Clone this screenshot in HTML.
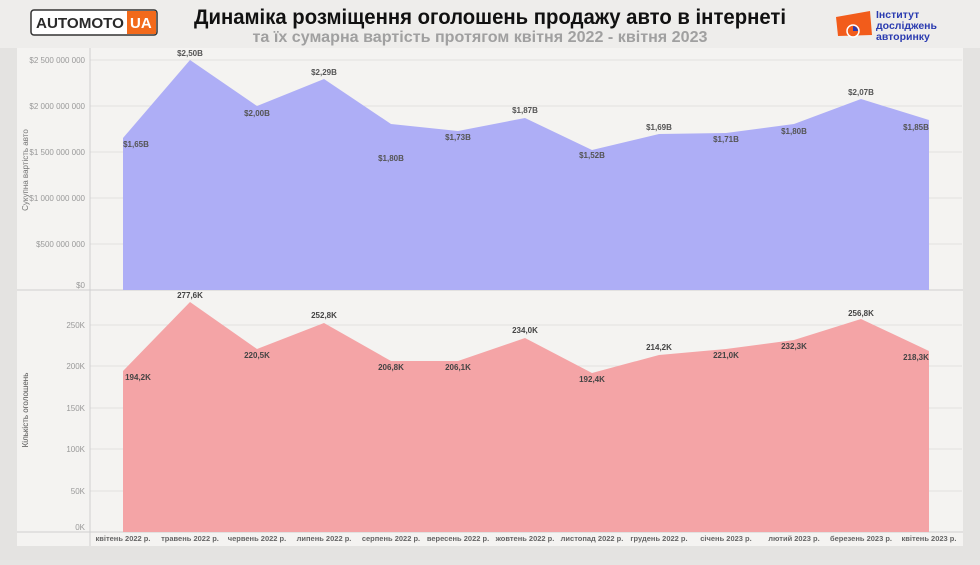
<!DOCTYPE html>
<html><head><meta charset="utf-8"><style>
body{margin:0;width:980px;height:560px;overflow:hidden;background:#e6e5e3;font-family:"Liberation Sans",sans-serif;}
</style></head><body>
<svg width="980" height="560" xmlns="http://www.w3.org/2000/svg" font-family="Liberation Sans, sans-serif">
<rect width="980" height="560" fill="#e4e3e1"/>
<rect x="0" y="0" width="980" height="48" fill="#eeedeb"/>
<rect x="17" y="48" width="946" height="498" fill="#f4f3f1"/>
<!-- logo -->
<rect x="31" y="10" width="126" height="25" rx="3" fill="#fff" stroke="#333" stroke-width="1.5"/>
<text x="36" y="28" font-size="14.5" font-weight="bold" fill="#2a2a2a" textLength="88" lengthAdjust="spacingAndGlyphs">AUTOMOTO</text>
<rect x="127" y="11" width="29" height="23" fill="#f26a1b"/>
<text x="130" y="28" font-size="15" font-weight="bold" fill="#fff">UA</text>
<text x="490" y="24" font-size="21" font-weight="bold" fill="#111" text-anchor="middle" textLength="592" lengthAdjust="spacingAndGlyphs">Динаміка розміщення оголошень продажу авто в інтернеті</text>
<text x="480" y="42" font-size="16" font-weight="bold" fill="#a0a0a0" text-anchor="middle" textLength="455" lengthAdjust="spacingAndGlyphs">та їх сумарна вартість протягом квітня 2022 - квітня 2023</text>
<!-- right logo -->
<path d="M836 17 L870 11 L872 35 L838 36 Z" fill="#f25c1b"/>
<circle cx="853" cy="31" r="6" fill="#f25c1b" stroke="#fff" stroke-width="1.5"/>
<path d="M853 31 L853 26 A5 5 0 0 1 858 31 Z" fill="#2a3bb0"/>
<text x="876" y="18" font-size="10.5" font-weight="bold" fill="#2a3bb0">Інститут</text>
<text x="876" y="29" font-size="10.5" font-weight="bold" fill="#2a3bb0">досліджень</text>
<text x="876" y="40" font-size="10.5" font-weight="bold" fill="#2a3bb0">авторинку</text>
<!-- grid -->
<g stroke="#e2e1df" stroke-width="1">
<line x1="90" y1="60" x2="962" y2="60"/><line x1="90" y1="106" x2="962" y2="106"/><line x1="90" y1="152" x2="962" y2="152"/><line x1="90" y1="198" x2="962" y2="198"/><line x1="90" y1="244" x2="962" y2="244"/>
<line x1="90" y1="325" x2="962" y2="325"/><line x1="90" y1="366" x2="962" y2="366"/><line x1="90" y1="408" x2="962" y2="408"/><line x1="90" y1="449" x2="962" y2="449"/><line x1="90" y1="491" x2="962" y2="491"/>
</g>
<line x1="17" y1="290" x2="963" y2="290" stroke="#cfcfcf"/>
<line x1="17" y1="532" x2="963" y2="532" stroke="#cfcfcf"/>
<line x1="90" y1="48" x2="90" y2="546" stroke="#cfcfcf"/>
<polygon fill="#aeaef6" points="123,290 123,138 190,60 257,106 324,79 391,124 458,131 525,118 592,150 659,134 726,133 794,124 861,99 929,120 929,290"/>
<polygon fill="#f4a4a6" points="123,532 123,371 190,302 257,349 324,323 391,361 458,361 525,338 592,373 659,355 726,349 794,340 861,319 929,351 929,532"/>
<g font-size="8" fill="#999" text-anchor="end">
<text x="85" y="63">$2 500 000 000</text><text x="85" y="109">$2 000 000 000</text><text x="85" y="155">$1 500 000 000</text><text x="85" y="201">$1 000 000 000</text><text x="85" y="247">$500 000 000</text><text x="85" y="288">$0</text>
<text x="85" y="328">250K</text><text x="85" y="369">200K</text><text x="85" y="411">150K</text><text x="85" y="452">100K</text><text x="85" y="494">50K</text><text x="85" y="530">0K</text>
</g>
<text transform="translate(28,170) rotate(-90)" font-size="8" fill="#777" text-anchor="middle">Сукупна вартість авто</text>
<text transform="translate(28,410) rotate(-90)" font-size="8" fill="#555" text-anchor="middle">Кількість оголошень</text>
<g font-size="8" font-weight="bold" fill="#555" text-anchor="middle">
<text x="136" y="147">$1,65B</text><text x="190" y="56">$2,50B</text><text x="257" y="116">$2,00B</text><text x="324" y="75">$2,29B</text><text x="391" y="161">$1,80B</text><text x="458" y="140">$1,73B</text><text x="525" y="113">$1,87B</text><text x="592" y="158">$1,52B</text><text x="659" y="130">$1,69B</text><text x="726" y="142">$1,71B</text><text x="794" y="134">$1,80B</text><text x="861" y="95">$2,07B</text><text x="916" y="130">$1,85B</text>
</g>
<g font-size="8" font-weight="bold" fill="#444" text-anchor="middle">
<text x="138" y="380">194,2K</text><text x="190" y="298">277,6K</text><text x="257" y="358">220,5K</text><text x="324" y="318">252,8K</text><text x="391" y="370">206,8K</text><text x="458" y="370">206,1K</text><text x="525" y="333">234,0K</text><text x="592" y="382">192,4K</text><text x="659" y="350">214,2K</text><text x="726" y="358">221,0K</text><text x="794" y="349">232,3K</text><text x="861" y="316">256,8K</text><text x="916" y="360">218,3K</text>
</g>
<g font-size="7.5" font-weight="bold" fill="#666" text-anchor="middle">
<text x="123" y="541">квітень 2022 р.</text><text x="190" y="541">травень 2022 р.</text><text x="257" y="541">червень 2022 р.</text><text x="324" y="541">липень 2022 р.</text><text x="391" y="541">серпень 2022 р.</text><text x="458" y="541">вересень 2022 р.</text><text x="525" y="541">жовтень 2022 р.</text><text x="592" y="541">листопад 2022 р.</text><text x="659" y="541">грудень 2022 р.</text><text x="726" y="541">січень 2023 р.</text><text x="794" y="541">лютий 2023 р.</text><text x="861" y="541">березень 2023 р.</text><text x="929" y="541">квітень 2023 р.</text>
</g>
</svg>
</body></html>
